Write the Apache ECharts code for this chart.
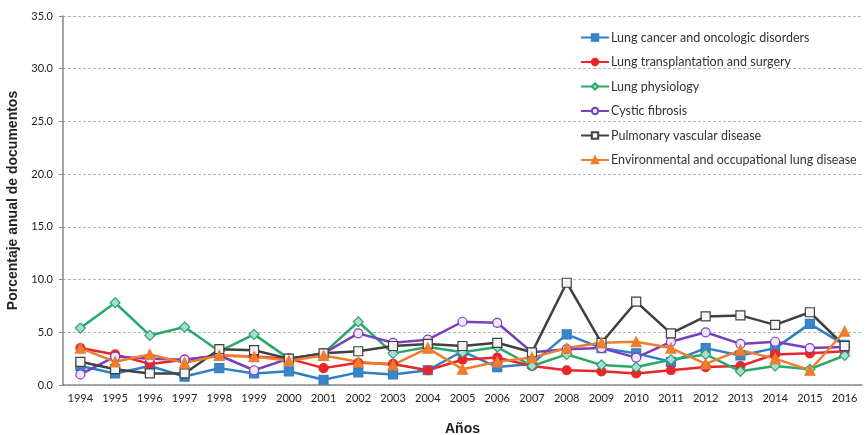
<!DOCTYPE html>
<html>
<head>
<meta charset="utf-8">
<script src="https://cdn.jsdelivr.net/npm/echarts@6/dist/echarts.min.js"></script>
<style>html,body{margin:0;padding:0;background:#fff}#c{width:867px;height:435px}</style>
</head>
<body>
<div id="c"></div>
<script>
const years = ['1994','1995','1996','1997','1998','1999','2000','2001','2002','2003','2004','2005','2006','2007','2008','2009','2010','2011','2012','2013','2014','2015','2016'];
const yTicks = [0,5,10,15,20,25,30,35];
const lungCancer   = [1.8,1.1,1.8,0.8,1.6,1.1,1.3,0.5,1.2,1.0,1.4,3.2,1.7,2.0,4.8,3.5,3.0,2.2,3.5,2.8,3.5,5.8,3.8];
const transplant   = [3.5,2.9,2.0,2.4,2.8,2.7,2.5,1.6,2.1,2.0,1.4,2.4,2.6,1.8,1.4,1.3,1.1,1.4,1.7,1.8,2.9,3.0,3.2];
const physiology   = [5.4,7.8,4.7,5.5,3.2,4.8,2.5,3.0,6.0,3.0,3.6,3.1,3.6,1.8,2.9,1.9,1.7,2.4,2.9,1.3,1.8,1.5,2.8];
const cysticFib    = [1.0,2.7,2.5,2.4,2.8,1.4,2.5,3.0,4.9,4.0,4.3,6.0,5.9,3.1,3.4,3.5,2.6,4.1,5.0,3.9,4.1,3.5,3.6];
const pulmVascular = [2.2,1.5,1.1,1.1,3.4,3.3,2.5,3.0,3.2,3.7,3.9,3.7,4.0,3.1,9.7,4.0,7.9,4.9,6.5,6.6,5.7,6.9,3.7];
const environment  = [3.5,2.2,2.9,2.1,2.8,2.7,2.3,2.8,2.2,1.9,3.5,1.5,2.2,2.6,3.5,4.0,4.1,3.5,2.0,3.3,2.5,1.4,5.1];
const names = ['Lung cancer and oncologic disorders','Lung transplantation and surgery','Lung physiology','Cystic fibrosis','Pulmonary vascular disease','Environmental and occupational lung disease'];

const chart = echarts.init(document.getElementById('c'));
function s(name, data, color, symbol, fill, size){
  return {name, type:'line', data, symbol, symbolSize:size, showSymbol:true,
    lineStyle:{color, width:2.5}, itemStyle:{color:fill, borderColor:color, borderWidth:1.2},
    emphasis:{disabled:true}, animation:false};
}
chart.setOption({
  animation:false,
  grid:{left:63, right:5, top:16, bottom:50, outerBoundsMode:'none', containLabel:false},
  legend:{orient:'vertical', left:575, top:26, itemGap:11.5, itemWidth:28, itemHeight:8,
    textStyle:{fontFamily:'Lato', fontSize:12.5, color:'#333', padding:[0,0,0,-3]},
    data:names.map(n=>({name:n}))},
  xAxis:{type:'category', data:years, boundaryGap:true,
    name:'Años', nameLocation:'middle', nameGap:37,
    nameTextStyle:{fontFamily:'Liberation Sans', fontWeight:'bold', fontSize:14, color:'#222'},
    axisLine:{lineStyle:{color:'#888', width:1.5}},
    axisTick:{alignWithLabel:true, length:4, lineStyle:{color:'#888'}},
    axisLabel:{fontFamily:'Lato', fontSize:11, color:'#222', interval:0, margin:8},
    splitLine:{show:false}},
  yAxis:{type:'value', min:0, max:35, interval:5,
    name:'Porcentaje anual de documentos', nameLocation:'middle', nameGap:41, nameRotate:90,
    nameTextStyle:{fontFamily:'Liberation Sans', fontWeight:'bold', fontSize:14, color:'#222'},
    axisLine:{show:true, lineStyle:{color:'#888', width:1.5}},
    axisTick:{show:true, length:4, lineStyle:{color:'#888'}},
    axisLabel:{fontFamily:'Lato', fontSize:11, color:'#222', margin:10, formatter:v=>yTicks.includes(v)?v.toFixed(1):''},
    splitLine:{lineStyle:{color:'#b5b5b5', type:[3,2], width:1}}},
  series:[
    s(names[0], lungCancer, '#2f7fc4', 'rect', '#3b86c8', 9),
    s(names[1], transplant, '#e8262a', 'circle', '#e8262a', 9),
    s(names[2], physiology, '#2aa868', 'diamond', '#a9dcd6', 10),
    s(names[3], cysticFib, '#7a3fbf', 'circle', '#efe6f8', 9),
    s(names[4], pulmVascular, '#404040', 'rect', '#f4f4f4', 9),
    s(names[5], environment, '#ee7d2e', 'triangle', '#ee7d2e', 10)
  ]
});
</script>
</body>
</html>
